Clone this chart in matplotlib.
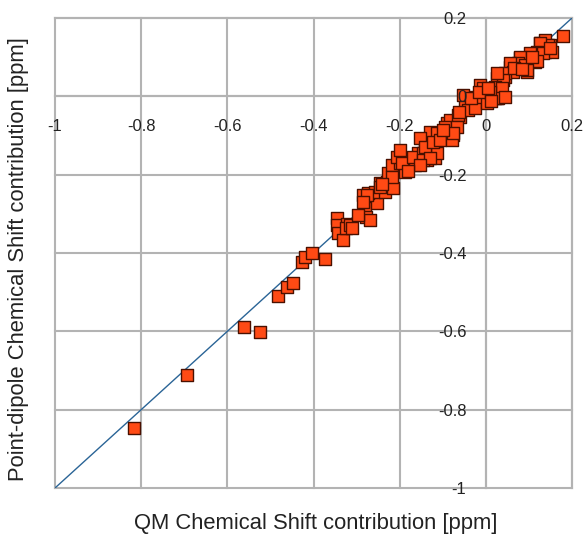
import matplotlib
matplotlib.use("Agg")
import matplotlib.pyplot as plt

plt.rcParams["font.family"] = ["Liberation Sans", "DejaVu Sans"]
plt.rcParams["axes.unicode_minus"] = False

# QM vs point-dipole chemical shift contributions (ppm)
qm_shift = [
    -0.817, -0.694, -0.561, -0.524, -0.482, -0.462, -0.448, -0.427, -0.420, -0.404,
    -0.373, -0.345, -0.345, -0.323, -0.343, -0.331, -0.325, -0.280, -0.277, -0.253,
    -0.269, -0.315, -0.311, -0.297, -0.285, -0.273, -0.257, -0.245, -0.229, -0.234,
    -0.215, -0.227, -0.218, -0.199, -0.206, -0.188, -0.181, -0.164, -0.157, -0.137,
    -0.118, -0.130, -0.276, -0.285, -0.246, -0.218, -0.195, -0.199, -0.169, -0.141,
    -0.146, -0.113, -0.130, -0.090, -0.076, -0.060, -0.041, -0.025, -0.009, 0.021,
    -0.014, 0.028, 0.056, 0.079, 0.096, 0.114, 0.137, 0.149, 0.126, -0.153,
    -0.141, -0.113, -0.123, -0.106, -0.078, -0.083, -0.095, -0.065, -0.067, -0.048,
    -0.030, -0.041, -0.025, -0.053, -0.007, -0.009, 0.017, 0.026, 0.045, 0.028,
    0.003, -0.146, -0.130, -0.153, -0.076, 0.179, 0.137, 0.144, 0.126, 0.154,
    0.119, 0.133, 0.119, 0.103, 0.079, 0.075, 0.056, 0.091, 0.063, 0.045,
    0.040, 0.026, 0.021, 0.038, 0.026, 0.045, 0.010, 0.149, 0.096, -0.062,
    -0.035, -0.015, 0.005, 0.066, 0.085, 0.108, -0.100, -0.180, -0.240, 0.012,
]
pd_shift = [
    -0.847, -0.711, -0.589, -0.601, -0.510, -0.488, -0.477, -0.423, -0.410, -0.401,
    -0.416, -0.311, -0.329, -0.326, -0.350, -0.367, -0.337, -0.286, -0.307, -0.273,
    -0.316, -0.329, -0.336, -0.303, -0.252, -0.247, -0.245, -0.222, -0.219, -0.244,
    -0.234, -0.196, -0.175, -0.171, -0.155, -0.193, -0.168, -0.175, -0.145, -0.162,
    -0.158, -0.142, -0.252, -0.270, -0.231, -0.206, -0.171, -0.137, -0.155, -0.117,
    -0.145, -0.145, -0.091, -0.068, -0.099, -0.053, -0.030, -0.002, -0.009, -0.004,
    0.029, 0.054, 0.075, 0.098, 0.062, 0.088, 0.113, 0.131, 0.136, -0.106,
    -0.129, -0.094, -0.117, -0.112, -0.112, -0.061, -0.078, -0.048, -0.078, -0.018,
    -0.015, -0.035, -0.030, 0.003, 0.021, -0.002, 0.008, 0.047, 0.049, -0.004,
    -0.017, -0.163, -0.158, -0.176, -0.094, 0.153, 0.144, 0.131, 0.136, 0.113,
    0.113, 0.110, 0.090, 0.110, 0.100, 0.085, 0.085, 0.080, 0.062, 0.059,
    0.042, 0.059, 0.024, 0.021, -0.004, -0.002, 0.011, 0.123, 0.067, -0.040,
    -0.005, 0.010, 0.020, 0.072, 0.070, 0.100, -0.085, -0.190, -0.225, -0.012,
]
ticks = [-1, -0.8, -0.6, -0.4, -0.2, 0, 0.2]
tick_labels = ["-1", "-0.8", "-0.6", "-0.4", "-0.2", "0", "0.2"]

grid_color = "#b3b3b3"
text_color = "#222222"

fig = plt.figure(figsize=(5.86, 5.36), dpi=100)
ax = fig.add_axes([55 / 586, 48 / 536, 517 / 586, 470 / 536])

ax.set_xlim(-1, 0.2)
ax.set_ylim(-1, 0.2)
ax.set_xticks(ticks)
ax.set_yticks(ticks)
ax.set_xticklabels(tick_labels)
ax.set_yticklabels(tick_labels)
ax.set_axisbelow(False)  # tick labels drawn over the points

# grid lines sit under the points
for t in ticks:
    ax.axhline(t, color=grid_color, linewidth=1.5, zorder=0.5, clip_on=False)
    ax.axvline(t, color=grid_color, linewidth=1.5, zorder=0.5, clip_on=False)

# axes cross at the origin
ax.spines["bottom"].set_position(("data", 0))
ax.spines["left"].set_position(("data", 0))
for side in ["bottom", "left", "top", "right"]:
    ax.spines[side].set_color(grid_color)
    ax.spines[side].set_linewidth(1.5)
    ax.spines[side].set_zorder(0.6)

ax.tick_params(axis="x", length=0, pad=16, labelsize=12, labelcolor=text_color)
ax.tick_params(axis="y", length=0, pad=14, labelsize=12, labelcolor=text_color)

# y = x reference line
ax.plot([-1, 0.2], [-1, 0.2], color="#2a6496", linewidth=1.0, zorder=2)

ax.scatter(qm_shift, pd_shift, marker="s", s=75, facecolor="#ff4a14",
           edgecolor="#4a1000", linewidth=1.0, zorder=2.2, clip_on=False)

fig.text(316 / 586, 1 - 523 / 536, "QM Chemical Shift contribution [ppm]",
         ha="center", va="center", fontsize=15.8, color=text_color)
fig.text(19 / 586, 1 - 259 / 536, "Point-dipole Chemical Shift contribution [ppm]",
         ha="center", va="center", rotation=90, fontsize=15.8, color=text_color)

fig.savefig("out.png", dpi=100)
